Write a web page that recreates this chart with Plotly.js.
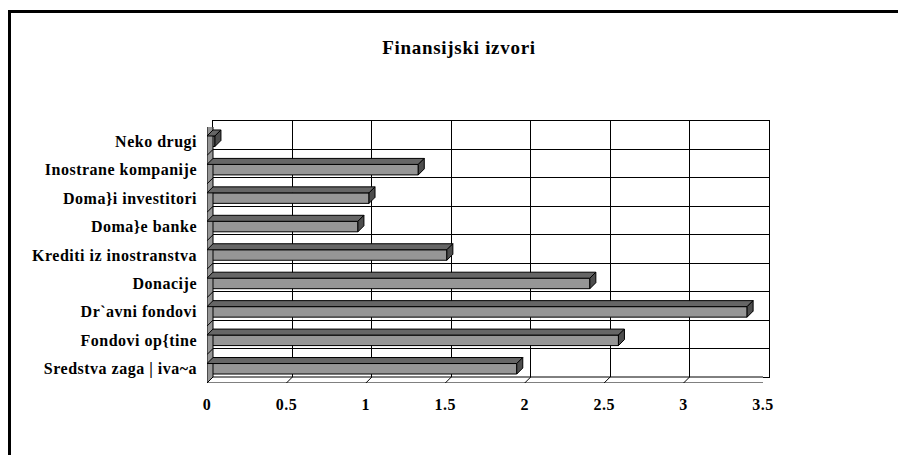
<!DOCTYPE html>
<html>
<head>
<meta charset="utf-8">
<script src="https://cdn.plot.ly/plotly-3.0.1.min.js"></script>
<style>
html,body{margin:0;padding:0;background:#fff;}
#chart{width:898px;height:455px;}
#chart .xaxislayer-above text, #chart .yaxislayer-above text { letter-spacing: 0.5px; }
#chart .gtitle { letter-spacing: 0.7px; }
</style>
</head>
<body>
<div id="chart"></div>
<script>
// ---- data ----
const categories = ["Sredstva zaga | iva~a","Fondovi op{tine","Dr`avni fondovi","Donacije","Krediti iz inostranstva","Doma}e banke","Doma}i investitori","Inostrane kompanije","Neko drugi"];
const values = [1.95, 2.59, 3.40, 2.41, 1.51, 0.95, 1.02, 1.33, 0.05];
const xTickVals = [0, 0.5, 1, 1.5, 2, 2.5, 3, 3.5];
const xTickText = ["0", "0.5", "1", "1.5", "2", "2.5", "3", "3.5"];
const chartTitle = "Finansijski izvori";

// ---- geometry (pixels) ----
const W = 898, H = 455;
const XMAX = 3.5;
const back = {l: 213, r: 769, t: 121, b: 377};
const front = {l: 207, r: 763, t: 127, b: 383};
const DEPTH_PX = 6;
const pxPerX = (front.r - front.l) / XMAX;
const pxPerY = (front.b - front.t) / categories.length;
const DX = DEPTH_PX / pxPerX;
const DY = DEPTH_PX / pxPerY;
const BAR_W = 10.5 / pxPerY;
const yIdx = categories.map((c, i) => i);
const yMin = -0.5, yMax = categories.length - 0.5;
const boundaries = [];
for (let b = yMin; b <= yMax + 1e-9; b += 1) boundaries.push(b);

const serif = 'Liberation Serif, Times New Roman, serif';
const shapes = [];
const lineBlack = {color: '#000', width: 1};

// outer frame
shapes.push({type: 'rect', xref: 'paper', yref: 'paper', x0: 9.5 / W, x1: 1.1, y0: -0.1, y1: 1 - 11.5 / H,
  line: {color: '#000', width: 3}, fillcolor: 'rgba(0,0,0,0)', layer: 'above'});

// left wall
shapes.push({type: 'path', xref: 'x2', yref: 'y2', layer: 'above',
  path: `M0,${yMin} L0,${yMax} L${DX},${yMax + DY} L${DX},${yMin + DY} Z`,
  fillcolor: '#969696', line: lineBlack});
// floor
shapes.push({type: 'path', xref: 'x2', yref: 'y2', layer: 'above',
  path: `M0,${yMin} L${XMAX},${yMin} L${XMAX + DX},${yMin + DY} L${DX},${yMin + DY} Z`,
  fillcolor: '#ffffff', line: lineBlack});
// left wall diagonals and outer ticks at category boundaries
boundaries.forEach(b => {
  shapes.push({type: 'path', xref: 'x2', yref: 'y2', layer: 'above',
    path: `M${-5 / pxPerX},${b} L0,${b} L${DX},${b + DY}`, line: lineBlack});
});
// floor ticks at x gridlines
xTickVals.forEach(v => {
  shapes.push({type: 'path', xref: 'x2', yref: 'y2', layer: 'above',
    path: `M${v + DX},${yMin + DY} L${v - 0.7 * DX},${yMin - 0.7 * DY}`, line: lineBlack});
});
// bar top and side faces
values.forEach((v, i) => {
  const yt = i + BAR_W / 2, yb = i - BAR_W / 2;
  shapes.push({type: 'path', xref: 'x2', yref: 'y2', layer: 'above',
    path: `M0,${yt} L${v},${yt} L${v + DX},${yt + DY} L${DX},${yt + DY} Z`,
    fillcolor: '#666666', line: lineBlack});
  shapes.push({type: 'path', xref: 'x2', yref: 'y2', layer: 'above',
    path: `M${v},${yb} L${v},${yt} L${v + DX},${yt + DY} L${v + DX},${yb + DY} Z`,
    fillcolor: '#4d4d4d', line: lineBlack});
});

const traces = [
  // invisible trace to create back wall subplot
  {type: 'scatter', x: [0], y: [0], xaxis: 'x', yaxis: 'y', mode: 'markers',
   marker: {opacity: 0}, hoverinfo: 'skip', showlegend: false},
  {type: 'bar', orientation: 'h', x: values, y: yIdx, xaxis: 'x2', yaxis: 'y2',
   width: BAR_W, base: 0, marker: {color: '#969696', line: {color: '#000', width: 1}},
   showlegend: false, hoverinfo: 'x'}
];

const layout = {
  width: W, height: H,
  margin: {l: 0, r: 0, t: 0, b: 0},
  paper_bgcolor: '#fff', plot_bgcolor: 'rgba(0,0,0,0)',
  showlegend: false,
  title: {text: chartTitle, xref: 'container', yref: 'container', x: 459 / W, y: 1 - 47 / H,
    xanchor: 'center', yanchor: 'middle',
    font: {family: serif, size: 19, color: '#000', weight: 'bold'}},
  xaxis: {domain: [back.l / W, back.r / W], range: [0, XMAX], anchor: 'y',
    tickmode: 'array', tickvals: xTickVals, showticklabels: false, ticks: '',
    showgrid: true, gridcolor: '#000', gridwidth: 1, zeroline: false,
    showline: true, linecolor: '#000', linewidth: 1, mirror: true, fixedrange: true},
  yaxis: {domain: [1 - back.b / H, 1 - back.t / H], range: [yMin, yMax], anchor: 'x',
    tickmode: 'array', tickvals: boundaries, showticklabels: false, ticks: '',
    showgrid: true, gridcolor: '#000', gridwidth: 1, zeroline: false,
    showline: true, linecolor: '#000', linewidth: 1, mirror: true, fixedrange: true},
  xaxis2: {domain: [front.l / W, front.r / W], range: [0, XMAX], anchor: 'y2',
    tickmode: 'array', tickvals: xTickVals, ticktext: xTickText, ticks: '',
    ticklabelstandoff: 10, showgrid: false, zeroline: false, showline: false,
    tickfont: {family: serif, size: 16, color: '#000', weight: 'bold'}, fixedrange: true},
  yaxis2: {domain: [1 - front.b / H, 1 - front.t / H], range: [yMin, yMax], anchor: 'x2',
    tickmode: 'array', tickvals: yIdx, ticktext: categories, ticks: '',
    ticklabelstandoff: 9, showgrid: false, zeroline: false, showline: false,
    tickfont: {family: serif, size: 16, color: '#000', weight: 'bold'}, fixedrange: true},
  shapes: shapes
};

Plotly.newPlot('chart', traces, layout, {staticPlot: true, displayModeBar: false});
</script>
</body>
</html>
